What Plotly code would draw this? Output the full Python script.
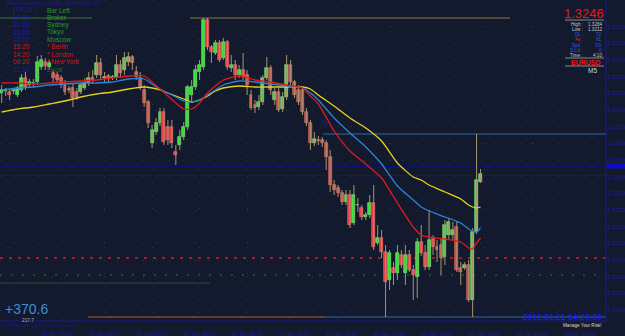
import plotly.graph_objects as go

# ---------------- data (EURUSD M5) ----------------
open_ = [1.32902, 1.32914, 1.32908, 1.32914, 1.32890, 1.32920, 1.32992, 1.32950, 1.32962, 1.32968,
         1.33058, 1.33088, 1.33058, 1.33022, 1.33010, 1.32992, 1.32950, 1.32920, 1.32932, 1.32908,
         1.32908, 1.32932, 1.32962, 1.32992, 1.33010, 1.33082, 1.32992, 1.33004, 1.32992, 1.32998,
         1.33070, 1.33040, 1.33088, 1.33118, 1.33028, 1.32992, 1.32920, 1.32848, 1.32602, 1.32668,
         1.32722, 1.32788, 1.32698, 1.32698, 1.32548, 1.32590, 1.32638, 1.32698, 1.32890, 1.32938,
         1.33028, 1.33058, 1.33340, 1.33178, 1.33142, 1.33202, 1.33112, 1.33208, 1.33052, 1.33070,
         1.33010, 1.33040, 1.33010, 1.32890, 1.32830, 1.32818, 1.32848, 1.32992, 1.33052, 1.32860,
         1.32908, 1.32806, 1.32878, 1.33070, 1.32968, 1.32920, 1.32920, 1.32788, 1.32722, 1.32602,
         1.32620, 1.32620, 1.32602, 1.32518, 1.32350, 1.32332, 1.32302, 1.32248, 1.32290, 1.32122,
         1.32230, 1.32212, 1.32158, 1.32170, 1.32242, 1.32002, 1.32032, 1.31948, 1.31780, 1.31852,
         1.31822, 1.31930, 1.31822, 1.31930, 1.31840, 1.31798, 1.32008, 1.31942, 1.31858, 1.32032,
         1.31978, 1.31990, 1.31918, 1.32050, 1.32050, 1.32098, 1.31852, 1.31852, 1.31870, 1.31660,
         1.32068, 1.32368]
close = [1.32920, 1.32920, 1.32890, 1.32920, 1.32932, 1.32992, 1.32938, 1.32968, 1.32962, 1.33088,
         1.33100, 1.33064, 1.33082, 1.32992, 1.32980, 1.32950, 1.32908, 1.32926, 1.32872, 1.32878,
         1.32950, 1.32962, 1.32992, 1.32980, 1.33082, 1.33010, 1.32998, 1.32986, 1.32998, 1.33070,
         1.33022, 1.33112, 1.33118, 1.33082, 1.32998, 1.32938, 1.32842, 1.32722, 1.32680, 1.32722,
         1.32788, 1.32608, 1.32620, 1.32602, 1.32530, 1.32638, 1.32698, 1.32938, 1.32938, 1.33040,
         1.33070, 1.33340, 1.33178, 1.33148, 1.33202, 1.33100, 1.33208, 1.33058, 1.33070, 1.33010,
         1.33040, 1.32998, 1.32950, 1.32812, 1.32812, 1.32848, 1.32992, 1.33052, 1.32920, 1.32908,
         1.32800, 1.32878, 1.33070, 1.32968, 1.32890, 1.32848, 1.32788, 1.32722, 1.32602, 1.32626,
         1.32614, 1.32602, 1.32518, 1.32350, 1.32320, 1.32302, 1.32248, 1.32290, 1.32110, 1.32290,
         1.32230, 1.32158, 1.32170, 1.32242, 1.31978, 1.32032, 1.31948, 1.31768, 1.31942, 1.31822,
         1.31942, 1.31870, 1.31930, 1.31840, 1.31810, 1.32008, 1.31942, 1.31858, 1.32020, 1.31978,
         1.31960, 1.31912, 1.32110, 1.32128, 1.32080, 1.31840, 1.31828, 1.31870, 1.31660, 1.32068,
         1.32380, 1.32416]
high = [1.32950, 1.32932, 1.32926, 1.32932, 1.32944, 1.33016, 1.33028, 1.32986, 1.32986, 1.33124,
        1.33130, 1.33112, 1.33100, 1.33040, 1.33028, 1.33010, 1.32980, 1.32944, 1.32956, 1.32932,
        1.32968, 1.32992, 1.33028, 1.33040, 1.33130, 1.33112, 1.33028, 1.33016, 1.33010, 1.33130,
        1.33100, 1.33148, 1.33148, 1.33130, 1.33064, 1.33028, 1.32950, 1.32860, 1.32710, 1.32752,
        1.32812, 1.32812, 1.32740, 1.32740, 1.32590, 1.32680, 1.32728, 1.32950, 1.32980, 1.33070,
        1.33100, 1.33352, 1.33352, 1.33190, 1.33220, 1.33220, 1.33232, 1.33220, 1.33130, 1.33100,
        1.33070, 1.33142, 1.33040, 1.32920, 1.32860, 1.32890, 1.33010, 1.33118, 1.33070, 1.32932,
        1.32932, 1.32908, 1.33130, 1.33100, 1.32980, 1.32950, 1.32932, 1.32812, 1.32740, 1.32668,
        1.32644, 1.32638, 1.32620, 1.32560, 1.32380, 1.32350, 1.32320, 1.32320, 1.32320, 1.32350,
        1.32272, 1.32230, 1.32188, 1.32290, 1.32350, 1.32110, 1.32080, 1.31990, 1.31960, 1.31888,
        1.31990, 1.31960, 1.31990, 1.31960, 1.31870, 1.32032, 1.32110, 1.31990, 1.32200, 1.32050,
        1.32020, 1.32032, 1.32140, 1.32152, 1.32128, 1.32128, 1.31888, 1.31888, 1.31900, 1.32092,
        1.32656, 1.32446]
low = [1.32842, 1.32884, 1.32860, 1.32896, 1.32878, 1.32908, 1.32920, 1.32938, 1.32938, 1.32950,
       1.33040, 1.33040, 1.33040, 1.32968, 1.32962, 1.32932, 1.32890, 1.32902, 1.32818, 1.32860,
       1.32896, 1.32920, 1.32944, 1.32956, 1.32992, 1.32980, 1.32968, 1.32968, 1.32980, 1.32980,
       1.32992, 1.33010, 1.33064, 1.33040, 1.32980, 1.32920, 1.32818, 1.32692, 1.32572, 1.32650,
       1.32704, 1.32590, 1.32590, 1.32572, 1.32470, 1.32560, 1.32620, 1.32680, 1.32842, 1.32920,
       1.32980, 1.33040, 1.33160, 1.33082, 1.33130, 1.33088, 1.33100, 1.33040, 1.33028, 1.32980,
       1.32992, 1.32980, 1.32890, 1.32800, 1.32782, 1.32800, 1.32830, 1.32980, 1.32890, 1.32830,
       1.32788, 1.32788, 1.32860, 1.32950, 1.32872, 1.32830, 1.32770, 1.32704, 1.32560, 1.32584,
       1.32590, 1.32578, 1.32440, 1.32308, 1.32290, 1.32278, 1.32230, 1.32230, 1.32092, 1.32110,
       1.32188, 1.32140, 1.32140, 1.32152, 1.31960, 1.31990, 1.31912, 1.31558, 1.31720, 1.31750,
       1.31780, 1.31852, 1.31750, 1.31828, 1.31660, 1.31672, 1.31924, 1.31840, 1.31840, 1.31930,
       1.31888, 1.31810, 1.31870, 1.32020, 1.32020, 1.31828, 1.31750, 1.31840, 1.31648, 1.31558,
       1.32056, 1.32362]

# moving averages, read at these bar numbers
ma_bar = [0, 4, 8, 12, 16, 20, 24, 28, 32, 36, 38, 40, 42, 44, 46, 48, 50, 52, 54, 56,
          60, 64, 68, 72, 76, 78, 80, 84, 88, 92, 96, 100, 104, 106, 108, 112, 116, 118, 119, 120, 121]
ma_fast = [1.32962, 1.32962, 1.32956, 1.32962, 1.32968, 1.32974, 1.32980, 1.32992, 1.33004, 1.33004,
           1.32968, 1.32926, 1.32884, 1.32842, 1.32806, 1.32806, 1.32842, 1.32902, 1.32944, 1.32980,
           1.33004, 1.32980, 1.32968, 1.32950, 1.32932, 1.32884, 1.32836, 1.32674, 1.32554, 1.32476,
           1.32392, 1.32242, 1.32098, 1.32050, 1.32038, 1.32026, 1.32008, 1.31972, 1.31966, 1.32002,
           1.32032]
ma_mid = [1.32920, 1.32932, 1.32938, 1.32950, 1.32956, 1.32962, 1.32962, 1.32968, 1.32986, 1.32986,
          1.32956, 1.32926, 1.32902, 1.32878, 1.32854, 1.32848, 1.32860, 1.32890, 1.32920, 1.32950,
          1.32974, 1.32968, 1.32956, 1.32944, 1.32932, 1.32902, 1.32860, 1.32752, 1.32662, 1.32578,
          1.32476, 1.32344, 1.32260, 1.32218, 1.32194, 1.32158, 1.32122, 1.32086, 1.32074, 1.32068,
          1.32092]
ma_slow = [1.32788, 1.32806, 1.32818, 1.32836, 1.32854, 1.32878, 1.32896, 1.32908, 1.32926, 1.32938,
           1.32932, 1.32920, 1.32902, 1.32884, 1.32866, 1.32848, 1.32860, 1.32884, 1.32914, 1.32932,
           1.32944, 1.32938, 1.32938, 1.32938, 1.32938, 1.32926, 1.32890, 1.32824, 1.32752, 1.32692,
           1.32614, 1.32482, 1.32398, 1.32380, 1.32350, 1.32308, 1.32266, 1.32230, 1.32218, 1.32212,
           1.32218]

bid = 1.3246
level_top = 1.33352
level_hi = 1.32656
level_ask = 1.32406
level_red = 1.31912
level_green = 1.31810
level_grn2 = 1.31762
level_low = 1.31558
axis_ticks = [1.3330, 1.3320, 1.3310, 1.3300, 1.3290, 1.3280, 1.3270, 1.3260, 1.3250, 1.3240,
              1.3230, 1.3220, 1.3210, 1.3200, 1.3190, 1.3180, 1.3170, 1.3160, 1.3150]
time_bars = [2, 14, 26, 38, 50, 62, 74, 86, 98, 110, 122, 134, 146]
time_labels = ["20 Jan 2012", "20 Jan 05:20", "20 Jan 06:20", "20 Jan 07:20", "20 Jan 08:20",
               "20 Jan 09:20", "20 Jan 10:20", "20 Jan 11:20", "20 Jan 12:20", "20 Jan 13:20",
               "20 Jan 14:20", "20 Jan 15:20", "20 Jan 16:20"]

# ---------------- figure ----------------
W, H = 625, 336
PW, PH = 606, 321          # plot area in pixels
BG = "#131a2d"
FONT = "Arial, Liberation Sans, sans-serif"

n = len(close)
bars = list(range(n))
xr = [-0.43, 152.7]
yr = [1.33460 - 0.00006 * PH, 1.33460]

fig = go.Figure()

# wicks
wx, wy = [], []
for i in bars:
    wx += [i, i, None]
    wy += [low[i], high[i], None]
fig.add_trace(go.Scatter(x=wx, y=wy, mode="lines", line=dict(color="#a8946c", width=1),
                         hoverinfo="skip", showlegend=False))

# bodies
up = [c >= o for o, c in zip(open_, close)]
base = [min(o, c) for o, c in zip(open_, close)]
hgt = [max(abs(c - o), 0.000015) for o, c in zip(open_, close)]
fig.add_trace(go.Bar(x=bars, y=hgt, base=base, width=0.74,
                     marker=dict(color=["#2ee82e" if u else "#e83a3a" for u in up],
                                 line=dict(color=["#9af09a" if u else "#f08080" for u in up], width=0.6)),
                     hoverinfo="skip", showlegend=False))

# moving averages
for vals, col in [(ma_slow, "#e6d21c"), (ma_mid, "#2a84d6"), (ma_fast, "#e01a1a")]:
    fig.add_trace(go.Scatter(x=ma_bar, y=vals, mode="lines",
                             line=dict(color=col, width=1.3, shape="spline", smoothing=0.6),
                             hoverinfo="skip", showlegend=False))

def px2bar(p):
    return (p - 1.7) / 3.957

def hline(level, x0, x1, color, width=1, dash="solid"):
    fig.add_shape(type="line", xref="x", yref="y", x0=px2bar(x0), x1=px2bar(x1), y0=level, y1=level,
                  line=dict(color=color, width=width, dash=dash), layer="below")

hline(level_top, 0, 92, "#3c7a2c", 1)
hline(level_top, 190, 510, "#8c7a44", 1)
hline(level_hi, 323, 606, "#2f6aa8", 1)
hline(bid, 0, 606, "#0b1272", 2)
hline(level_ask, 0, 606, "#141c66", 1)
hline(level_red, 0, 606, "#d82020", 1.4, "3px,6px")
hline(level_green, 0, 606, "#2a7a2a", 1.2, "2px,9px")
hline(level_grn2, 0, 210, "#2a502a", 1)
hline(level_low, 88, 324, "#b06420", 1)
hline(level_low, 324, 606, "#2f6aa8", 1)

# right axis frame
fig.add_shape(type="line", xref="paper", yref="paper", x0=1, x1=1, y0=0, y1=1,
              line=dict(color="#1a1a8c", width=1))
fig.add_shape(type="line", xref="paper", yref="paper", x0=0, x1=1, y0=0, y1=0,
              line=dict(color="#1a1a8c", width=1))
# bid marker on price axis
fig.add_shape(type="rect", xref="paper", yref="paper", x0=607 / PW, x1=625 / PW,
              y0=1 - 168.5 / PH, y1=1 - 163 / PH, line=dict(width=0), fillcolor="#0c0cc8")

def txt(px, py, s, color, size=7, anchor="left", bold=False):
    fig.add_annotation(xref="paper", yref="paper", x=px / PW, y=1 - py / PH,
                       text=("<b>%s</b>" % s) if bold else s,
                       showarrow=False, xanchor=anchor, yanchor="middle",
                       font=dict(family=FONT, size=size, color=color), borderpad=0)

# top-left session clock
txt(5, 3.2, "Market Sessions Clock : EURUSD, M5", "#1a1a90", 5.5)
rows = [("[ 04:16 ]", "Bar Left", "#1c1caa", "#2a9a2a"),
        ("16:20", "Broker", "#1c1caa", "#2a9a2a"),
        ("01:20", "Sydney", "#1c1caa", "#2a9a2a"),
        ("23:20", "Tokyo", "#1c1caa", "#2a9a2a"),
        ("18:20", "Moscow", "#1c1caa", "#2a9a2a"),
        ("15:20", "* Berlin", "#d01818", "#d01818"),
        ("14:20", "* London", "#d01818", "#d01818"),
        ("09:20", "* New York", "#d01818", "#d01818"),
        ("22:20", "Local", "#1c1caa", "#1e6e1e")]
for k, (t, name, c1, c2) in enumerate(rows):
    y = 10.2 + k * 7.35
    txt(12, y, t, c1, 6.5)
    txt(46, y, name, c2, 6.5)

# top-right info panel
txt(584, 13, "1.3246", "#e01c1c", 13, "center")
for yy in (20, 58, 66):
    fig.add_shape(type="line", xref="paper", yref="paper", x0=565 / PW, x1=604 / PW,
                  y0=1 - yy / PH, y1=1 - yy / PH, line=dict(color="#8a8a8a", width=1))
info = [("High :", "1.3284", "#c8c8c8", "#c8c8c8"),
        ("Low :", "1.3212", "#c8c8c8", "#c8c8c8"),
        ("DL :", "72", "#2a5ae0", "#2a5ae0"),
        ("Av :", "91", "#e01c1c", "#2a5ae0"),
        ("Spd :", "3.0", "#2a5ae0", "#2a5ae0"),
        ("S.Lvl :", "0", "#2a5ae0", "#2a5ae0"),
        ("Time :", "4:10", "#c8c8c8", "#c8c8c8")]
for k, (lab, val, c1, c2) in enumerate(info):
    y = 24.3 + k * 5.2
    txt(584, y, lab, c1, 4.6, "right")
    txt(603, y, val, c2, 4.6, "right")
txt(586, 62, "EURUSD", "#e01c1c", 7, "center", bold=True)
txt(592, 70.3, "M5", "#d0d0d0", 6.5, "center")

# misc labels
txt(325, 122, "44", "#1a1aa0", 6.5, "center")
txt(4, 309, "+370.6", "#3a8ed8", 14)
txt(21, 320, "217.7", "#b0b0d0", 4.8)
txt(2, 325.6, "EURUSD,M5  1.3246  Risk Calculator", "#1a1a90", 4.4)
txt(603, 316.5, "2012.01.21 14:20:00", "#1a1ae0", 8.5, "right", bold=True)
txt(603, 325.3, "Manage Your Risk!", "#d8d8d8", 4.6, "right")

fig.update_layout(
    width=W, height=H, margin=dict(l=0, r=W - PW, t=0, b=H - PH),
    paper_bgcolor=BG, plot_bgcolor=BG, barmode="overlay", bargap=0,
    xaxis=dict(range=xr, showgrid=True, gridcolor="#2a3454", griddash="1px,12px", zeroline=False,
               tickvals=time_bars, ticktext=time_labels, ticks="", showline=False,
               ticklabelstandoff=8,
               tickfont=dict(family=FONT, size=5.5, color="#1c1c9c")),
    yaxis=dict(range=yr, side="right", showgrid=True, gridcolor="#2a3454", griddash="1px,12px", zeroline=False,
               tickvals=axis_ticks, tickformat=".4f", ticks="", showline=False,
               tickfont=dict(family=FONT, size=6, color="#1c1c9c")),
)

fig.write_html("out.html")
